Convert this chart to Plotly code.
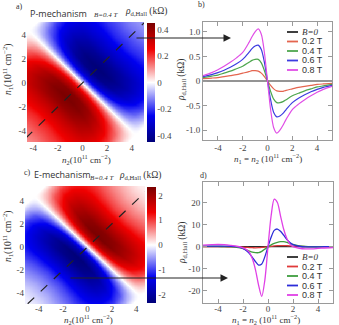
import numpy as np
import plotly.graph_objects as go

W, H = 339, 325
def X(px): return px / W
def Y(py): return 1 - py / H

# ---------------- data ----------------
# panel b: rho_d,Hall along n1 = n2 (P-mechanism)
b_n = [-5.2, -4.5, -4, -3.5, -3, -2.5, -2, -1.5, -1.25, -1, -0.75, -0.5, -0.25, 0,
       0.25, 0.5, 0.75, 1, 1.25, 1.5, 2, 2.5, 3, 3.5, 4, 4.5, 5.2]
b_B0 = [0] * 27
b_02 = [0.05, 0.06, 0.07, 0.09, 0.11, 0.13, 0.16, 0.19, 0.21, 0.21, 0.20, 0.16, 0.09, 0,
        -0.09, -0.16, -0.20, -0.21, -0.21, -0.19, -0.16, -0.13, -0.11, -0.09, -0.07, -0.06, -0.05]
b_04 = [0.07, 0.10, 0.12, 0.16, 0.20, 0.25, 0.30, 0.38, 0.42, 0.44, 0.44, 0.37, 0.21, 0,
        -0.21, -0.37, -0.44, -0.44, -0.42, -0.38, -0.30, -0.25, -0.20, -0.16, -0.12, -0.10, -0.07]
b_06 = [0.09, 0.13, 0.17, 0.22, 0.28, 0.35, 0.44, 0.58, 0.66, 0.71, 0.73, 0.64, 0.38, 0,
        -0.38, -0.64, -0.73, -0.71, -0.66, -0.58, -0.44, -0.35, -0.28, -0.22, -0.17, -0.13, -0.09]
b_08 = [0.11, 0.17, 0.23, 0.30, 0.38, 0.47, 0.58, 0.78, 0.90, 1.00, 1.06, 0.95, 0.58, 0,
        -0.58, -0.95, -1.06, -1.00, -0.90, -0.78, -0.58, -0.47, -0.38, -0.30, -0.23, -0.17, -0.11]

# panel d: rho_d,Hall along n1 = n2 (E-mechanism)
d_n = [-5.2, -4.5, -4, -3.5, -3, -2.5, -2, -1.75, -1.5, -1.25, -1, -0.75, -0.5, -0.25, 0,
       0.25, 0.5, 0.75, 1, 1.25, 1.5, 1.75, 2, 2.5, 3, 3.5, 4, 4.5, 5.2]
d_B0 = [0] * 29
d_02 = [0, 0, 0, 0, -0.05, -0.1, -0.25, -0.3, -0.4, -0.45, -0.5, -0.45, -0.35, -0.2, 0,
        0.2, 0.35, 0.45, 0.5, 0.5, 0.45, 0.4, 0.3, 0.15, 0.05, 0, 0, 0, 0]
d_04 = [0.1, 0.1, 0.1, 0.05, 0, -0.3, -0.9, -1.4, -2.0, -2.5, -2.7, -2.7, -2.1, -1.1, 0,
        0.8, 1.5, 2.0, 2.3, 2.3, 2.0, 1.5, 1.0, 0.4, 0.1, 0, 0, 0, 0]
d_06 = [0.3, 0.3, 0.3, 0.25, 0.2, 0, -0.8, -1.7, -3.0, -4.8, -6.8, -8.3, -7.8, -4.5, 0,
        4.3, 7.4, 8.0, 7.0, 5.2, 3.3, 1.9, 0.9, 0.2, -0.1, -0.1, -0.1, 0, 0]
d_08 = [0.7, 0.9, 1.0, 0.9, 0.6, 0.2, -0.5, -1.2, -2.5, -5.5, -10.5, -17.5, -22.5, -15, 0,
        14, 21.5, 20, 14, 8, 3.8, 1.2, 0, -0.7, -1.0, -1.0, -0.8, -0.6, -0.4]

# heatmap profiles: along the diagonal (s=(n1+n2)/2) and across it (t=(n1-n2)/2)
a_s = [0, 0.25, 0.5, 0.85, 1.25, 1.75, 2.25, 2.75, 3.25, 3.75, 4.25, 4.75, 5.5, 7.5]
a_v = [0, 0.20, 0.33, 0.43, 0.45, 0.41, 0.34, 0.28, 0.22, 0.18, 0.14, 0.11, 0.08, 0.03]
c_s = [0, 0.25, 0.5, 0.85, 1.25, 1.75, 2.25, 2.75, 3.25, 3.75, 4.25, 4.75, 5.5, 7.5]
c_v = [0, 1.1, 1.9, 2.35, 2.25, 1.85, 1.4, 1.0, 0.7, 0.45, 0.25, 0.1, 0.03, 0]
cross_t = [0, 0.5, 1, 1.5, 2, 2.5, 3, 3.5, 4, 4.35, 8]
cross_g = [1, 0.99, 0.96, 0.9, 0.82, 0.72, 0.6, 0.45, 0.22, 0, 0]
cross_w = [1, 1, 1.04, 1.1, 1.2, 1.32, 1.45, 1.6, 1.75, 1.85, 1.85]

tick_vals = [-4, -2, 0, 2, 4]
tick_text = ['-4', '-2', '0', '2', '4']
field_labels = ['<i>B=0</i>', '0.2 T', '0.4 T', '0.6 T', '0.8 T']
b_colors = ['#2a2a2a', '#e4654f', '#4ea64e', '#3c3ce0', '#e04ee6']
d_colors = ['#2a2a2a', '#e03a3a', '#3f9e3f', '#2c2cd8', '#e040e6']

# ---------------- build heatmap tables ----------------
grid = np.arange(-5.3, 5.31, 0.05)
N2, N1 = np.meshgrid(grid, grid)
S = (N1 + N2) / 2
T = np.abs(N1 - N2) / 2
G = np.interp(T, cross_t, cross_g)
Wd = np.interp(T, cross_t, cross_w)
z_a = -np.sign(S) * np.interp(np.abs(S) / Wd, a_s, a_v) * G
z_c = np.sign(S) * np.interp(np.abs(S) / Wd, c_s, c_v) * G

cscale = [[0.0, '#000078'], [0.22, '#0000f0'], [0.5, '#ffffff'],
          [0.78, '#f00000'], [1.0, '#7a0000']]

SERIF = 'Liberation Serif'
tf = dict(family=SERIF, size=9, color='#444')

fig = go.Figure()

fig.add_trace(go.Heatmap(
    x=grid, y=grid, z=z_a, xaxis='x', yaxis='y', colorscale=cscale,
    zmin=-0.45, zmax=0.45,
    colorbar=dict(x=X(147), xanchor='left', xpad=0, y=Y(82.5), yanchor='middle', ypad=0,
                  len=119 / H, thickness=8, outlinewidth=0,
                  tickvals=[-0.4, -0.2, 0, 0.2, 0.4],
                  ticktext=['-0.4', '-0.2', '0', '0.2', '0.4'], tickfont=tf)))
fig.add_trace(go.Scatter(x=[-4.6, 5.0], y=[-4.6, 5.0], mode='lines', xaxis='x', yaxis='y',
                         line=dict(color='#222', width=1.2, dash='dash'), showlegend=False))

fig.add_trace(go.Heatmap(
    x=grid, y=grid, z=z_c, xaxis='x3', yaxis='y3', colorscale=cscale,
    zmin=-2.35, zmax=2.35,
    colorbar=dict(x=X(147), xanchor='left', xpad=0, y=Y(245), yanchor='middle', ypad=0,
                  len=116 / H, thickness=9, outlinewidth=0,
                  tickvals=[-2, -1, 0, 1, 2],
                  ticktext=['-2', '-1', '0', '1', '2'], tickfont=tf)))
fig.add_trace(go.Scatter(x=[-4.9, 5.0], y=[-4.9, 5.0], mode='lines', xaxis='x3', yaxis='y3',
                         line=dict(color='#222', width=1.2, dash='dash'), showlegend=False))

for ys, col in zip([b_B0, b_02, b_04, b_06, b_08], b_colors):
    fig.add_trace(go.Scatter(x=b_n, y=ys, mode='lines', xaxis='x2', yaxis='y2',
                             line=dict(color=col, width=1.2, shape='spline', smoothing=0.8),
                             showlegend=False))
for ys, col in zip([d_B0, d_02, d_04, d_06, d_08], d_colors):
    fig.add_trace(go.Scatter(x=d_n, y=ys, mode='lines', xaxis='x4', yaxis='y4',
                             line=dict(color=col, width=1.3, shape='spline', smoothing=0.8),
                             showlegend=False))

heat_ax = dict(showgrid=False, zeroline=False, showline=False, ticks='',
               tickvals=tick_vals, ticktext=tick_text, tickfont=tf)
box_ax = dict(showgrid=False, zeroline=False, showline=True, mirror='allticks',
              linecolor='#9a9a9a', linewidth=1, ticks='inside', ticklen=4,
              tickcolor='#9a9a9a', tickfont=tf)

fig.update_layout(
    width=W, height=H, margin=dict(l=0, r=0, t=0, b=0),
    paper_bgcolor='white', plot_bgcolor='white', showlegend=False,
    xaxis=dict(domain=[X(27), X(144)], range=[-4.5, 5.0], anchor='y',
               ticklabelstandoff=-1, **heat_ax),
    yaxis=dict(domain=[Y(142), Y(22)], range=[-4.92, 5.08], anchor='x', **heat_ax),
    xaxis3=dict(domain=[X(25), X(145)], range=[-5.12, 4.71], anchor='y3',
                ticklabelstandoff=-2, **heat_ax),
    yaxis3=dict(domain=[Y(304), Y(186)], range=[-4.92, 5.26], anchor='x3', **heat_ax),
    xaxis2=dict(domain=[X(203), X(332)], range=[-5.2, 5.2], anchor='y2',
                ticklabelstandoff=-1, tickvals=tick_vals, ticktext=tick_text, **box_ax),
    yaxis2=dict(domain=[Y(140), Y(22)], range=[-1.2, 1.2], anchor='x2',
                tickvals=[-1, -0.5, 0, 0.5, 1],
                ticktext=['-1.0', '-0.5', '0', '0.5', '1.0'], **box_ax),
    xaxis4=dict(domain=[X(203), X(333)], range=[-5.2, 5.2], anchor='y4',
                ticklabelstandoff=-3, tickvals=tick_vals, ticktext=tick_text, **box_ax),
    yaxis4=dict(domain=[Y(303), Y(182)], range=[-25.5, 29.3], anchor='x4',
                tickvals=[-20, -10, 0, 10, 20],
                ticktext=['-20', '-10', '0', '10', '20'], **box_ax),
)

ann = []
def txt(x, y, s, size=9, family=SERIF, xanchor='left', angle=0, color='#333'):
    ann.append(dict(x=X(x), y=Y(y), xref='paper', yref='paper', text=s, showarrow=False,
                    xanchor=xanchor, yanchor='middle', textangle=angle,
                    font=dict(family=family, size=size, color=color)))

rho = '<i>ρ</i><sub>d,Hall</sub> (kΩ)'
n_unit = '(10<sup>11</sup> cm<sup>−2</sup>)'
# panel headers
txt(14, 7, 'a)', 8)
txt(28, 13, 'P-mechanism', 9, 'Open Sans')
txt(92, 15, '<i>B=0.4 T</i>', 7)
txt(123, 11, rho, 9.5)
txt(196, 5, 'b)', 8)
txt(22, 173, 'c)', 8)
txt(32, 174, 'E-mechanism', 9, 'Open Sans')
txt(88, 178, '<i>B=0.4 T</i>', 7)
txt(117, 175, rho, 9.5)
txt(198, 175, 'd)', 8)
# axis titles
txt(86, 159, '<i>n</i><sub>2</sub>' + n_unit, 9, xanchor='center')
txt(7, 70, '<i>n</i><sub>1</sub>' + n_unit, 9.5, xanchor='center', angle=-90)
txt(88, 319.5, '<i>n</i><sub>2</sub>' + n_unit, 9, xanchor='center')
txt(7, 237, '<i>n</i><sub>1</sub>' + n_unit, 9.5, xanchor='center', angle=-90)
txt(268, 158, '<i>n</i><sub>1</sub> = <i>n</i><sub>2</sub> ' + n_unit, 9, xanchor='center')
txt(181, 80, rho, 9.5, xanchor='center', angle=-90)
txt(266, 319.5, '<i>n</i><sub>1</sub> = <i>n</i><sub>2</sub> ' + n_unit, 9, xanchor='center')
txt(182, 243, rho, 9.5, xanchor='center', angle=-90)

# legends
shapes = []
for rows, cols in (([32, 41.5, 51, 60.5, 70], b_colors), ([257, 266.5, 276, 285.5, 295], d_colors)):
    for yy, col, lab in zip(rows, cols, field_labels):
        shapes.append(dict(type='line', xref='paper', yref='paper', x0=X(287), x1=X(298),
                           y0=Y(yy), y1=Y(yy), line=dict(color=col, width=1.8)))
        txt(300, yy, lab, 9, SERIF if 'B' in lab else 'Liberation Sans')

# arrows
ann.append(dict(x=X(231), y=Y(38), xref='paper', yref='paper', ax=-96, ay=0, text='',
                showarrow=True, arrowhead=2, arrowsize=1.5, arrowwidth=1, arrowcolor='#222'))
ann.append(dict(x=X(228), y=Y(278), xref='paper', yref='paper', ax=-159, ay=0, text='',
                showarrow=True, arrowhead=2, arrowsize=1.5, arrowwidth=1, arrowcolor='#222'))

fig.update_layout(annotations=ann, shapes=shapes)
fig.write_html('out.html')
